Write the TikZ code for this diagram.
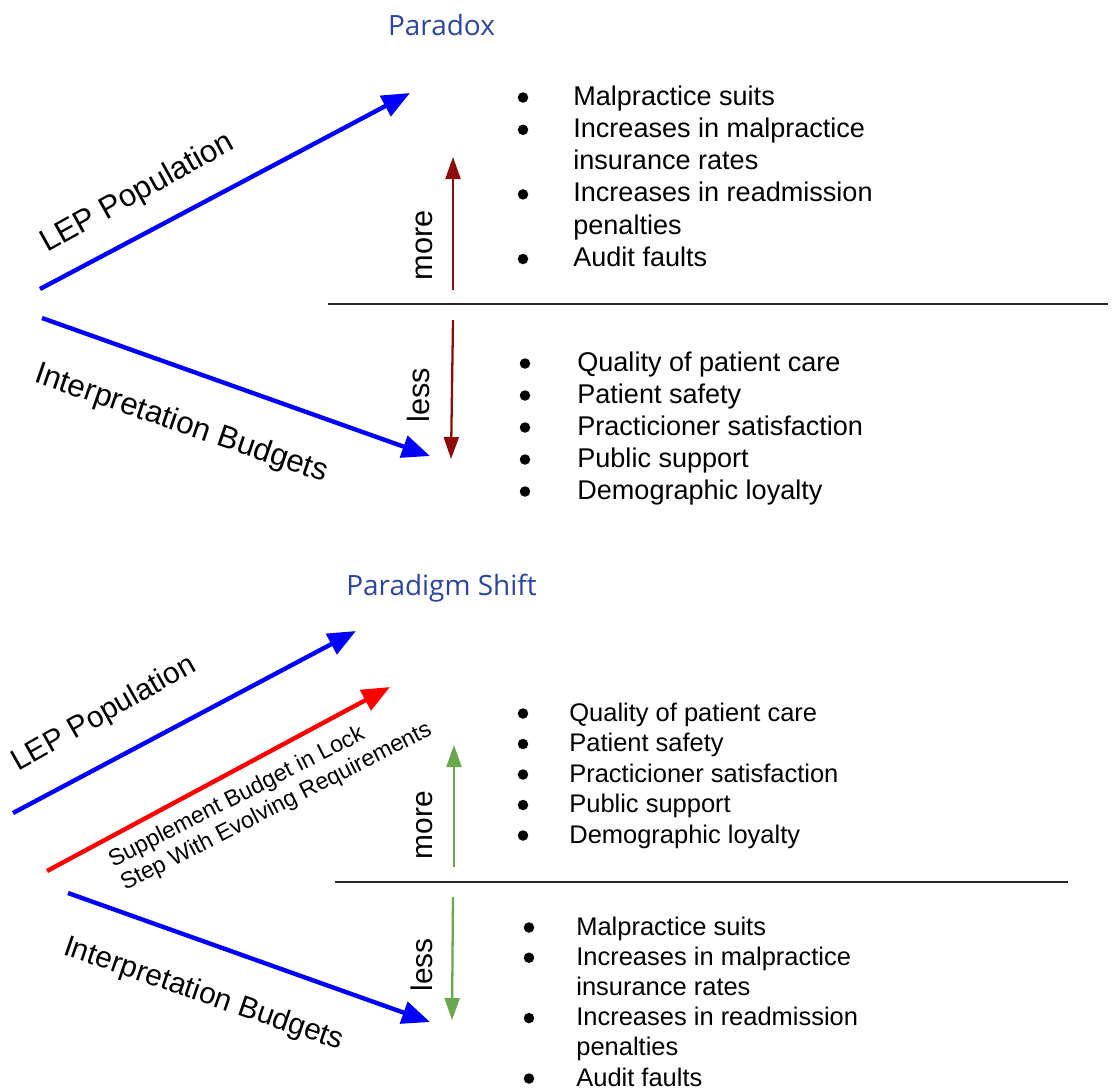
\documentclass[tikz,border=0pt]{standalone}
\usepackage{fontspec}
\setmainfont{Liberation Sans}
\newfontfamily\titlefont{Open Sans}
\usetikzlibrary{arrows.meta}
\definecolor{titleblue}{RGB}{43,69,160}
\definecolor{arrowblue}{RGB}{0,0,255}
\definecolor{arrowred}{RGB}{255,0,0}
\definecolor{darkred}{RGB}{140,12,12}
\definecolor{leafgreen}{RGB}{106,168,79}
\newcommand\sizeA{\fontsize{15.4}{18}\selectfont}
\newcommand\sizeB{\fontsize{14.5}{17}\selectfont}

\begin{document}
\begin{tikzpicture}[x=0.02cm, y=-0.02cm,
  trend/.style={line width=2.5pt, -{Triangle[length=0.56cm, width=0.45cm]}},
  change/.style={line width=1.3pt, -{Triangle[length=0.44cm, width=0.3cm]}},
  split/.style={line width=1.4pt, black!85},
  lbl/.style={inner sep=0pt, anchor=base},
  heading/.style={inner sep=0pt, anchor=base, text=titleblue, font=\titlefont\fontsize{15.9}{19}\selectfont},
  item/.style={inner sep=0pt, anchor=base west},
  dot/.style={circle, fill=black, inner sep=0pt, minimum size=0.21cm}]
\useasboundingbox (0,0) rectangle (1112,1090);

% Paradox
\node[heading] (paradox) at (441.5,35) {Paradox};
\coordinate (lepA-s) at (40,289);   \coordinate (lepA-e) at (410,93);
\coordinate (ibA-s) at (42,318);    \coordinate (ibA-e) at (430,456);
\coordinate (moreA-s) at (453,290); \coordinate (moreA-e) at (453,157);
\coordinate (lessA-s) at (453,320); \coordinate (lessA-e) at (451,459);
\coordinate (sepA-w) at (328,304);  \coordinate (sepA-e) at (1108,304);
\draw[trend, arrowblue] (lepA-s) -- (lepA-e);
\draw[trend, arrowblue] (ibA-s) -- (ibA-e);
\draw[change, darkred] (moreA-s) -- (moreA-e);
\draw[change, darkred] (lessA-s) -- (lessA-e);
\draw[split] (sepA-w) -- (sepA-e);
\node[lbl, rotate=29, font=\fontsize{17.8}{20}\selectfont] (lepA) at (141.5,200.6) {LEP Population};
\node[lbl, rotate=-19, font=\fontsize{17.8}{20}\selectfont] (ibA) at (178.5,432) {Interpretation Budgets};
\node[rotate=90, inner sep=0pt, font=\fontsize{17.5}{20}\selectfont] (moreA) at (424,245) {more};
\node[rotate=90, inner sep=0pt, font=\fontsize{17.5}{20}\selectfont] (lessA) at (418.5,395) {less};
\foreach \t/\b [count=\i] in {Malpractice suits/1, Increases in malpractice/1, insurance rates/0,
    Increases in readmission/1, penalties/0, Audit faults/1}{
  \node[item, font=\sizeA] (upA-\i) at (573,{105+32.3*(\i-1)}) {\t};
  \ifnum\b=1 \node[dot] (upA-d\i) at (523,{97.5+32.3*(\i-1)}) {}; \fi
}
\foreach \t [count=\i] in {Quality of patient care, Patient safety, Practicioner satisfaction,
    Public support, Demographic loyalty}{
  \node[item, font=\sizeA] (downA-\i) at (577,{371+32*(\i-1)}) {\t};
  \node[dot] (downA-d\i) at (525,{363.5+32*(\i-1)}) {};
}

% Paradigm Shift
\node[heading] (shift) at (441.5,595) {Paradigm Shift};
\coordinate (lepB-s) at (13,813);   \coordinate (lepB-e) at (356,631);
\coordinate (supB-s) at (47,871);   \coordinate (supB-e) at (390,687);
\coordinate (ibB-s) at (68,893);    \coordinate (ibB-e) at (430,1022);
\coordinate (moreB-s) at (454,867); \coordinate (moreB-e) at (454,745);
\coordinate (lessB-s) at (453,897); \coordinate (lessB-e) at (452,1020);
\coordinate (sepB-w) at (335,882);  \coordinate (sepB-e) at (1068,882);
\draw[trend, arrowblue] (lepB-s) -- (lepB-e);
\draw[trend, arrowred] (supB-s) -- (supB-e);
\draw[trend, arrowblue] (ibB-s) -- (ibB-e);
\draw[change, leafgreen] (moreB-s) -- (moreB-e);
\draw[change, leafgreen] (lessB-s) -- (lessB-e);
\draw[split] (sepB-w) -- (sepB-e);
\node[lbl, rotate=29.5, font=\fontsize{17}{20}\selectfont] (lepB) at (108,721) {LEP Population};
\node[lbl, rotate=-19, font=\fontsize{17}{20}\selectfont] (ibB) at (201,1002) {Interpretation Budgets};
\node[inner sep=0pt, anchor=base west, rotate=27, align=left, font=\fontsize{13.2}{15.1}\selectfont] (supB)
  at (125,891) {Supplement Budget in Lock\\Step With Evolving Requirements};
\node[rotate=90, inner sep=0pt, font=\fontsize{17}{20}\selectfont] (moreB) at (425,825) {more};
\node[rotate=90, inner sep=0pt, font=\fontsize{17}{20}\selectfont] (lessB) at (422,965) {less};
\foreach \t [count=\i] in {Quality of patient care, Patient safety, Practicioner satisfaction,
    Public support, Demographic loyalty}{
  \node[item, font=\sizeB] (upB-\i) at (569,{721+30.5*(\i-1)}) {\t};
  \node[dot] (upB-d\i) at (523,{713.5+30.5*(\i-1)}) {};
}
\foreach \t/\b [count=\i] in {Malpractice suits/1, Increases in malpractice/1, insurance rates/0,
    Increases in readmission/1, penalties/0, Audit faults/1}{
  \node[item, font=\sizeB] (downB-\i) at (576,{935+30.2*(\i-1)}) {\t};
  \ifnum\b=1 \node[dot] (downB-d\i) at (529,{927.5+30.2*(\i-1)}) {}; \fi
}
\end{tikzpicture}
\end{document}
